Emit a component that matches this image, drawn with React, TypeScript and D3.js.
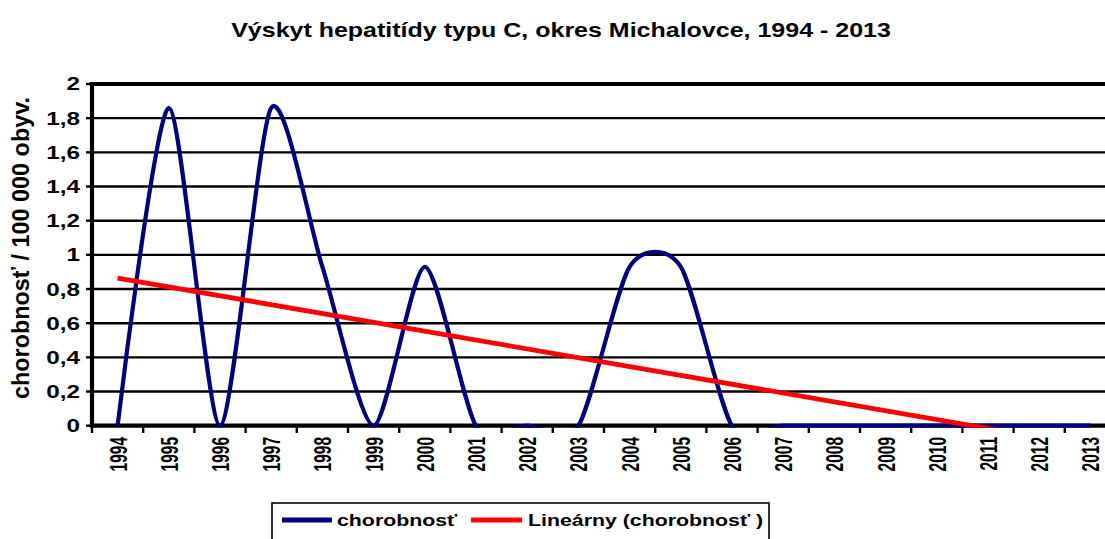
import React from 'react';
import * as d3 from 'd3';

const years = ['1994','1995','1996','1997','1998','1999','2000','2001','2002','2003','2004','2005','2006','2007','2008','2009','2010','2011','2012','2013'];
const values = [0, 1.86, 0, 1.86, 0.93, 0, 0.93, 0, 0, 0, 0.93, 0.93, 0, 0, 0, 0, 0, 0, 0, 0];
const yTicks = [0, 0.2, 0.4, 0.6, 0.8, 1, 1.2, 1.4, 1.6, 1.8, 2];
const titleText = 'Výskyt hepatitídy typu C, okres Michalovce, 1994 - 2013';
const yTitle = 'chorobnosť / 100 000 obyv.';
const seriesName = 'chorobnosť';
const trendName = 'Lineárny (chorobnosť )';

const W = 1105, H = 539;
const left = 92, right = 1116, top = 84, bottom = 425.7;
const SX = 1.35;
const FONT = 'Arial, "Liberation Sans", sans-serif';

export default function App() {
  const x = d3.scaleBand<string>().domain(years).range([left, right]);
  const cx = (y: string) => (x(y) as number) + x.bandwidth() / 2;
  const yS = d3.scaleLinear().domain([0, 2]).range([bottom, top]);

  const pts = years.map((yr, i) => [cx(yr), yS(values[i])] as [number, number]);
  const line = d3.line<[number, number]>().curve(d3.curveCardinal.tension(0.25));
  const bluePath = line(pts) || '';

  // linear trend (least squares over index 1..n)
  const n = values.length;
  const xs = values.map((_, i) => i + 1);
  const mx = d3.mean(xs) as number;
  const my = d3.mean(values) as number;
  const sxy = d3.sum(xs.map((xi, i) => (xi - mx) * (values[i] - my)));
  const sxx = d3.sum(xs.map((xi) => (xi - mx) * (xi - mx)));
  const slope = sxy / sxx;
  const icpt = my - slope * mx;
  const trendPts: [number, number][] = [
    [cx(years[0]), yS(icpt + slope * 1)],
    [cx(years[n - 1]), yS(icpt + slope * n)],
  ];
  const redPath = d3.line<[number, number]>()(trendPts) || '';

  const fmt = (v: number) => String(Math.round(v * 10) / 10).replace('.', ',');

  return (
    <svg width={W} height={H} style={{ position: 'absolute', left: 0, top: 0, background: '#fff' }} fontFamily={FONT}>
      <defs>
        <clipPath id="plotClip">
          <rect x={left} y={0} width={right - left} height={427.7} />
        </clipPath>
      </defs>
      <rect x={0} y={0} width={W} height={H} fill="#fff" />
      {/* title */}
      <text transform={`translate(561,36.5) scale(1.19,1)`} textAnchor="middle" fontWeight="bold" fontSize={21} fill="#000">{titleText}</text>
      {/* gridlines */}
      {yTicks.map((t) => (
        <line key={'g' + t} x1={left} x2={right} y1={yS(t)} y2={yS(t)} stroke="#000" strokeWidth={t === 2 ? 4 : 2.4} />
      ))}
      {/* y ticks */}
      {yTicks.map((t) => (
        <line key={'yt' + t} x1={86} x2={left} y1={yS(t)} y2={yS(t)} stroke="#000" strokeWidth={2.4} />
      ))}
      {/* x ticks */}
      {years.map((yr) => (
        <line key={'xt' + yr} x1={x(yr) as number} x2={x(yr) as number} y1={bottom} y2={433} stroke="#000" strokeWidth={2.4} />
      ))}
      {/* axes */}
      <line x1={left} x2={left} y1={top - 2} y2={bottom + 2} stroke="#000" strokeWidth={4.2} />
      <line x1={left - 2} x2={right} y1={bottom} y2={bottom} stroke="#000" strokeWidth={4.2} />
      {/* y labels */}
      {yTicks.map((t) => (
        <text key={'yl' + t} transform={`translate(80,${yS(t)}) scale(${SX},1)`} dy="0.36em" textAnchor="end" fontWeight="bold" fontSize={18} fill="#000">{fmt(t)}</text>
      ))}
      {/* x labels */}
      {years.map((yr) => (
        <text key={'xl' + yr} transform={`translate(${cx(yr)},437) scale(1.6,1) rotate(-90)`} dy="0.36em" textAnchor="end" fontWeight="bold" fontSize={15.5} fill="#000">{yr}</text>
      ))}
      {/* y title */}
      <text transform={`translate(21,248) rotate(-90)`} dy="0.36em" textAnchor="middle" fontWeight="bold" fontSize={23.4} fill="#000">{yTitle}</text>
      {/* series */}
      <g clipPath="url(#plotClip)">
        <path d={bluePath} fill="none" stroke="#000080" strokeWidth={4.2} strokeLinejoin="round" />
        <path d={redPath} fill="none" stroke="#ff0000" strokeWidth={4.8} />
      </g>
      {/* legend */}
      <rect x={272} y={503} width={497} height={50} fill="#fff" stroke="#000" strokeWidth={1.6} />
      <line x1={282} x2={332} y1={520} y2={520} stroke="#000080" strokeWidth={5} />
      <text transform={`translate(337,520) scale(${SX},1)`} dy="0.36em" fontWeight="bold" fontSize={15.8} fill="#000">{seriesName}</text>
      <line x1={471} x2={522} y1={520} y2={520} stroke="#ff0000" strokeWidth={5} />
      <text transform={`translate(528,520) scale(${SX},1)`} dy="0.36em" fontWeight="bold" fontSize={15.8} fill="#000">{trendName}</text>
    </svg>
  );
}
